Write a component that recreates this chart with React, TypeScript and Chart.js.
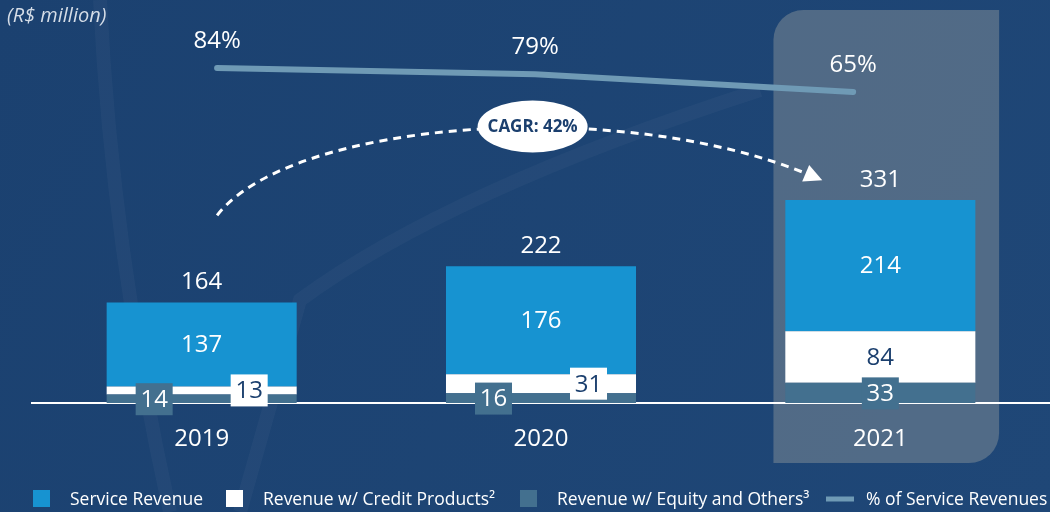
import React, { useEffect, useRef } from "react";
import { Chart, registerables } from "chart.js";
Chart.register(...registerables);

const years = ["2019", "2020", "2021"];
const serviceRevenue = [137, 176, 214];
const creditRevenue = [13, 31, 84];
const equityRevenue = [14, 16, 33];
const totals = [164, 222, 331];
const servicePct = [84, 79, 65];
const cagrLabel = "CAGR: 42%";
const unitLabel = "(R$ million)";
const seriesNames = [
  "Service Revenue",
  "Revenue w/ Credit Products²",
  "Revenue w/ Equity and Others³",
  "% of Service Revenues",
];

const SERVICE = "#1793d1";
const CREDIT = "#ffffff";
const EQUITY = "#43708f";
const LINE = "#6f9ab5";
const NAVY = "#1b3f6e";
const FONT = "'Open Sans', 'Noto Sans', sans-serif";

const decorPlugin = {
  id: "decor",
  beforeDraw(chart: any) {
    const { ctx, width, height } = chart;
    ctx.save();
    const g = ctx.createLinearGradient(0, 0, width, height);
    g.addColorStop(0, "#1b4170");
    g.addColorStop(1, "#1f4777");
    ctx.fillStyle = g;
    ctx.fillRect(0, 0, width, height);
    // faint decorative strokes
    ctx.strokeStyle = "rgba(255,255,255,0.03)";
    ctx.lineWidth = 14;
    ctx.beginPath();
    ctx.moveTo(100, 0);
    ctx.quadraticCurveTo(112, 250, 170, 512);
    ctx.stroke();
    ctx.beginPath();
    ctx.moveTo(240, 512);
    ctx.lineTo(300, 300);
    ctx.quadraticCurveTo(450, 190, 760, 90);
    ctx.stroke();

    const x = chart.scales.x;
    const step = x.getPixelForValue(1) - x.getPixelForValue(0);
    const cx = x.getPixelForValue(2);
    const left = cx - step * 0.315;
    const right = cx + step * 0.35;
    const top = 10;
    const bottom = 463;
    const r = 30;
    ctx.fillStyle = "rgba(131,143,152,0.5)";
    ctx.beginPath();
    ctx.moveTo(left + r, top);
    ctx.lineTo(right, top);
    ctx.lineTo(right, bottom - r);
    ctx.arcTo(right, bottom, right - r, bottom, r);
    ctx.lineTo(left, bottom);
    ctx.lineTo(left, top + r);
    ctx.arcTo(left, top, left + r, top, r);
    ctx.closePath();
    ctx.fill();

    ctx.font = `italic 20px ${FONT}`;
    ctx.fillStyle = "#d5dde7";
    ctx.textBaseline = "middle";
    ctx.textAlign = "left";
    ctx.fillText(unitLabel, 7, 16);
    ctx.restore();
  },
};

const labelsPlugin = {
  id: "labels",
  afterDraw(chart: any) {
    const ctx = chart.ctx;
    const metaE = chart.getDatasetMeta(0);
    const metaC = chart.getDatasetMeta(1);
    const metaS = chart.getDatasetMeta(2);
    const metaL = chart.getDatasetMeta(3);
    ctx.save();
    ctx.textAlign = "center";
    ctx.textBaseline = "middle";
    ctx.font = `24px ${FONT}`;
    const bw = 37;
    const bh = 32;
    years.forEach((_, i) => {
      const bs = metaS.data[i];
      const bc = metaC.data[i];
      const be = metaE.data[i];
      const cx = bs.x;
      const w = bs.width;
      ctx.fillStyle = "#fff";
      ctx.fillText(String(totals[i]), cx, bs.y - 20);
      ctx.fillText(String(serviceRevenue[i]), cx, (bs.y + bs.base) / 2 + 1);
      const creditH = bc.base - bc.y;
      const off = creditH < 30 ? w * 0.25 : 0;
      const cy = (bc.y + bc.base) / 2;
      ctx.fillStyle = CREDIT;
      ctx.fillRect(cx + off - bw / 2, cy - bh / 2, bw, bh);
      ctx.fillStyle = NAVY;
      ctx.fillText(String(creditRevenue[i]), cx + off, cy + 1);
      const ey = (be.y + be.base) / 2 + 0.5;
      ctx.fillStyle = EQUITY;
      ctx.fillRect(cx - off - bw / 2, ey - bh / 2, bw, bh);
      ctx.fillStyle = "#fff";
      ctx.fillText(String(equityRevenue[i]), cx - off, ey + 1);
      const pt = metaL.data[i];
      ctx.fillText(servicePct[i] + "%", pt.x, pt.y - 27);
    });

    // CAGR arrow
    const xl = chart.scales.xl;
    const y = chart.scales.y;
    const p0 = { x: xl.getPixelForValue(0), y: y.getPixelForValue(totals[0]) - 87 };
    const p3 = { x: xl.getPixelForValue(2) - 41, y: y.getPixelForValue(totals[2]) - 24 };
    const p1 = { x: p0.x + 73, y: p0.y - 95 };
    const p2 = { x: p3.x - 192, y: p3.y - 81 };
    ctx.strokeStyle = "#fff";
    ctx.lineWidth = 3;
    ctx.setLineDash([8, 6]);
    ctx.beginPath();
    ctx.moveTo(p0.x, p0.y);
    ctx.bezierCurveTo(p1.x, p1.y, p2.x, p2.y, p3.x, p3.y);
    ctx.stroke();
    ctx.setLineDash([]);
    const dx = p3.x - p2.x;
    const dy = p3.y - p2.y;
    const len = Math.hypot(dx, dy);
    const ux = dx / len;
    const uy = dy / len;
    const tip = { x: p3.x + ux * 11, y: p3.y + uy * 11 };
    const bx = p3.x - ux * 7;
    const by = p3.y - uy * 7;
    ctx.fillStyle = "#fff";
    ctx.beginPath();
    ctx.moveTo(tip.x, tip.y);
    ctx.lineTo(bx - uy * 9, by + ux * 9);
    ctx.lineTo(bx + uy * 9, by - ux * 9);
    ctx.closePath();
    ctx.fill();

    const ex = (p0.x + p3.x) / 2 + 18;
    const eyy = p0.y - 89;
    ctx.beginPath();
    ctx.ellipse(ex, eyy, 55, 26, 0, 0, Math.PI * 2);
    ctx.fill();
    ctx.fillStyle = NAVY;
    ctx.font = `bold 17px ${FONT}`;
    ctx.fillText(cagrLabel, ex, eyy + 1);

    // legend
    const lx = [33, 226, 520, 826];
    const colors = [SERVICE, CREDIT, EQUITY];
    ctx.font = `17.5px ${FONT}`;
    ctx.textAlign = "left";
    const ly = 499;
    seriesNames.forEach((name, k) => {
      const x0 = lx[k];
      let tx;
      if (k < 3) {
        ctx.fillStyle = colors[k];
        ctx.fillRect(x0, ly - 9, 17, 17);
        tx = x0 + 37;
      } else {
        ctx.strokeStyle = LINE;
        ctx.lineWidth = 5;
        ctx.beginPath();
        ctx.moveTo(x0, ly);
        ctx.lineTo(x0 + 28, ly);
        ctx.stroke();
        tx = x0 + 40;
      }
      ctx.fillStyle = "#fff";
      ctx.fillText(name, tx, ly + 1);
    });
    ctx.restore();
  },
};

export default function App() {
  const ref = useRef<HTMLCanvasElement>(null);
  useEffect(() => {
    if (!ref.current) return;
    const chart = new Chart(ref.current, {
      type: "bar",
      data: {
        labels: years,
        datasets: [
          { label: seriesNames[2], data: equityRevenue, backgroundColor: EQUITY, xAxisID: "x", yAxisID: "y" },
          { label: seriesNames[1], data: creditRevenue, backgroundColor: CREDIT, xAxisID: "x", yAxisID: "y" },
          { label: seriesNames[0], data: serviceRevenue, backgroundColor: SERVICE, xAxisID: "x", yAxisID: "y" },
          {
            type: "line",
            label: seriesNames[3],
            data: servicePct.map((v, i) => ({ x: i, y: v })),
            borderColor: LINE,
            borderWidth: 6,
            borderCapStyle: "round",
            pointRadius: 0,
            tension: 0,
            xAxisID: "xl",
            yAxisID: "y2",
          } as any,
        ],
      },
      options: {
        responsive: false,
        animation: false,
        events: [],
        layout: { padding: { left: 32, right: 0, top: 0, bottom: 0 } },
        datasets: { bar: { barPercentage: 0.56, categoryPercentage: 1, borderWidth: 0, grouped: false } },
        plugins: { legend: { display: false }, tooltip: { enabled: false } },
        scales: {
          x: {
            type: "category",
            stacked: true,
            offset: true,
            z: 1,
            grid: { display: false, drawTicks: false },
            border: { display: true, color: "#ffffff", width: 2 },
            ticks: { color: "#ffffff", font: { family: FONT, size: 24 }, padding: 22, maxRotation: 0 },
            afterFit: (s: any) => {
              s.height = 109;
            },
          },
          xl: { type: "linear", display: false, offset: false, bounds: "ticks", min: -0.582, max: 2.619, grid: { offset: false } },
          y: { stacked: true, display: false, min: 0, max: 657 },
          y2: { display: false, min: -181.3, max: 137.8 },
        },
      } as any,
      plugins: [decorPlugin, labelsPlugin],
    });
    return () => chart.destroy();
  }, []);
  return (
    <div style={{ position: "fixed", left: 0, top: 0, width: 1050, height: 512 }}>
      <canvas ref={ref} width={1050} height={512} style={{ display: "block" }} />
    </div>
  );
}
